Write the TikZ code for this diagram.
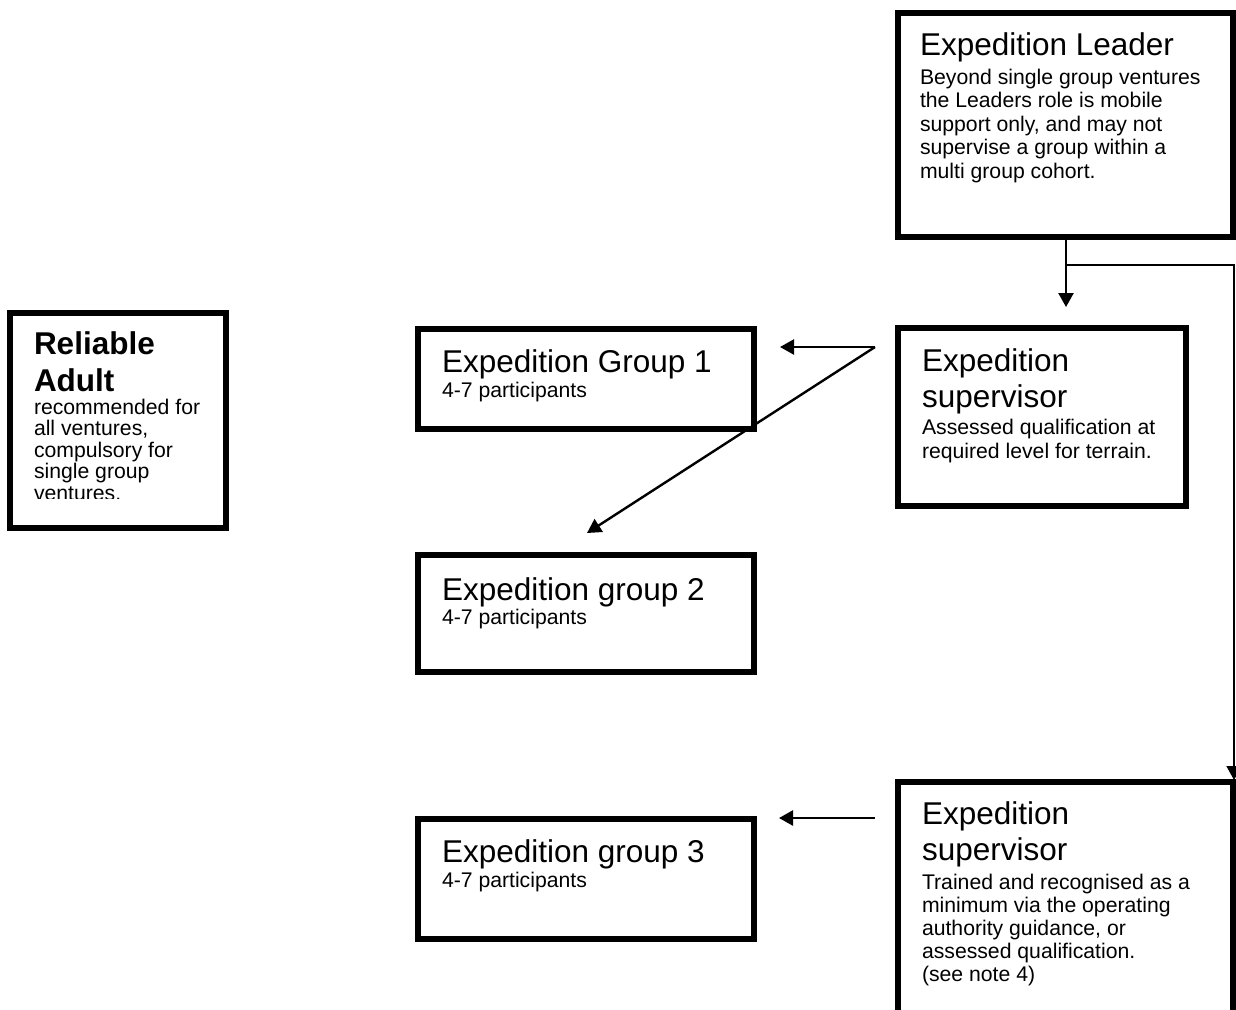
\documentclass[tikz,border=0pt]{standalone}
\usepackage{fontspec}
\setmainfont{Liberation Sans}
\usetikzlibrary{arrows.meta}
\newcommand\hdfont{\fontsize{15.75pt}{18pt}\selectfont}
\newcommand\bdfont{\fontsize{10.6pt}{11.75pt}\selectfont}
\begin{document}
\begin{tikzpicture}[x=0.5pt,y=-0.5pt,
  box/.style={draw, line width=3pt, rectangle, inner sep=0pt, outer sep=0pt, anchor=north west},
  txt/.style={anchor=base west, inner sep=0pt, outer sep=0pt},
  arr/.style={line width=1.2pt, -{Triangle[length=7pt,width=7.5pt]}},
  thinarr/.style={line width=0.8pt, -{Triangle[length=7pt,width=7.5pt]}}]
\clip (0,0) rectangle (1236,1009);
\fill[white] (0,0) rectangle (1236,1009);
% boxes
\node[box, minimum width=167.5pt, minimum height=112pt] (leader) at (898,13) {};
\node[box, minimum width=108pt, minimum height=107.5pt] (reliable) at (10,313) {};
\node[box, minimum width=168pt, minimum height=50pt] (g1) at (418,329) {};
\node[box, minimum width=168pt, minimum height=58.5pt] (g2) at (418,555) {};
\node[box, minimum width=168pt, minimum height=60pt] (g3) at (418,819) {};
\node[box, minimum width=144pt, minimum height=89pt] (sup1) at (898,328) {};
\node[box, minimum width=167.5pt, minimum height=130pt] (sup2) at (898,782) {};
% texts
\node[txt] (leadert) at (920,55) {\hdfont Expedition Leader};
\node[txt] (leaderb) at (920,84) {\parbox[t]{170pt}{\bdfont\raggedright
  Beyond single group ventures\\the Leaders role is mobile\\support only, and may not\\supervise a group within a\\multi group cohort.}};
\node[txt] (relt) at (34,354) {\parbox[t]{100pt}{\fontsize{15.75pt}{18.5pt}\selectfont\bfseries\raggedright Reliable\\Adult}};
\begin{scope}
\clip (10,300) rectangle (226,498);
\node[txt] (relb) at (34,414) {\parbox[t]{100pt}{\fontsize{10.6pt}{10.75pt}\selectfont\raggedright
  recommended for\\all ventures,\\compulsory for\\single group\\ventures.}};
\end{scope}
\node[txt] (g1t) at (442,372) {\hdfont Expedition Group 1};
\node[txt] (g1b) at (442,397) {\bdfont 4-7 participants};
\node[txt] (g2t) at (442,600) {\hdfont Expedition group 2};
\node[txt] (g2b) at (442,624) {\bdfont 4-7 participants};
\node[txt] (g3t) at (442,862) {\hdfont Expedition group 3};
\node[txt] (g3b) at (442,887) {\bdfont 4-7 participants};
\node[txt] (s1t) at (922,371) {\parbox[t]{140pt}{\hdfont\raggedright Expedition\\supervisor}};
\node[txt] (s1b) at (922,434) {\parbox[t]{140pt}{\fontsize{10.6pt}{12pt}\selectfont\raggedright
  Assessed qualification at\\required level for terrain.}};
\node[txt] (s2t) at (922,824) {\parbox[t]{160pt}{\hdfont\raggedright Expedition\\supervisor}};
\node[txt] (s2b) at (922,889) {\parbox[t]{160pt}{\fontsize{10.6pt}{11.5pt}\selectfont\raggedright
  Trained and recognised as a\\minimum via the operating\\authority guidance, or\\assessed qualification.\\(see note 4)}};
% connectors
\coordinate (t1) at (1066,307);
\coordinate (j1) at (1066,265);
\coordinate (c2) at (1234,265);
\coordinate (t2) at (1234,780);
\coordinate (s1) at (875,347);
\coordinate (t3) at (780,347);
\coordinate (t4) at (587,533);
\coordinate (s2) at (875,818);
\coordinate (t5) at (779,818);
\draw[arr] (leader.south -| t1) -- (t1);
\draw[thinarr] (j1) -- (c2) -- (t2);
\draw[arr] (s1) -- (t3);
\draw[arr] (s1) -- (t4);
\draw[arr] (s2) -- (t5);
\end{tikzpicture}
\end{document}
